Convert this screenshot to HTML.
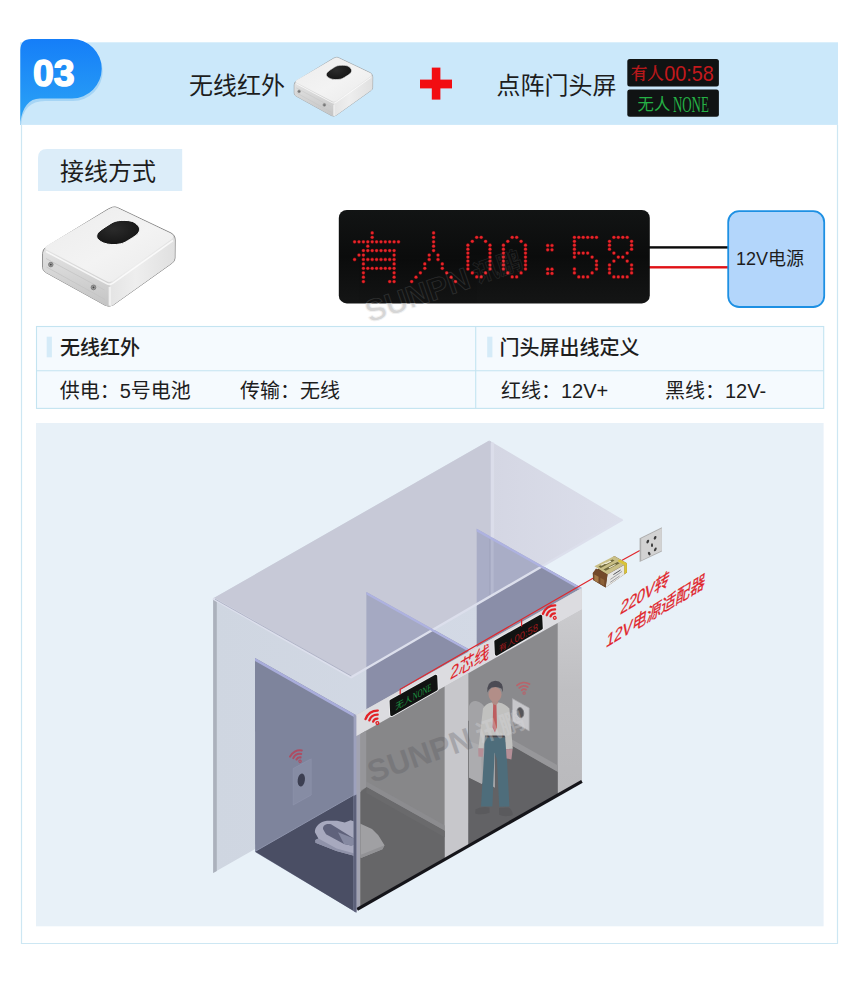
<!DOCTYPE html>
<html lang="zh"><head><meta charset="utf-8"><title>03 无线红外 + 点阵门头屏 接线方式</title>
<style>
html,body{margin:0;padding:0;background:#fff}
body{width:860px;height:1001px;position:relative;overflow:hidden;font-family:"Liberation Sans","Noto Sans CJK SC",sans-serif}
#art{position:absolute;left:0;top:0;width:860px;height:1001px;display:block}
#art text{font-family:"Liberation Sans","Noto Sans CJK SC",sans-serif}
#art text.sf{font-family:"Liberation Serif","Noto Serif CJK SC",serif}
.t{position:absolute;margin:0;color:transparent;white-space:nowrap;line-height:1;font-size:20px;z-index:0;user-select:none}
.num{position:absolute;left:33px;top:55px;font:bold 37px/1 "Liberation Sans",sans-serif;color:transparent;z-index:0}
</style></head><body>
<h1 class="t" style="left:189px;top:72px;font-size:24px">无线红外 + 点阵门头屏</h1>
<h2 class="t" style="left:60px;top:158px;font-size:24px">接线方式</h2>
<p class="t" style="left:60px;top:336px">无线红外</p><p class="t" style="left:60px;top:380px">供电：5号电池　传输：无线</p>
<p class="t" style="left:500px;top:336px">门头屏出线定义</p><p class="t" style="left:501px;top:380px">红线：12V+　黑线：12V-</p>
<p class="t" style="left:735px;top:248px;font-size:18px">12V电源</p>
<p class="t" style="left:420px;top:650px;font-size:14px">有人00:58 无人NONE 2芯线 220V转 12V电源适配器</p>
<svg id="art" width="860" height="1001" viewBox="0 0 860 1001">
<rect x="20" y="42.3" width="818" height="82.6" fill="#cbe8fa"/>
<path d="M20 52 Q20 41.5 31 41.5 L73 41.5 A29.7 29.7 0 0 1 73 100.9 L45 100.9 Q23 100.9 21 124.9 L20 124.9 Z" fill="#a6d5f5"/>
<defs><linearGradient id="bg1" x1="0" y1="0" x2="0" y2="1"><stop offset="0" stop-color="#157ef8"/><stop offset="1" stop-color="#2ca4f5"/></linearGradient></defs>
<path d="M20.4 50 Q20.4 39 31.4 39 L72 39 A29.7 29.7 0 0 1 72 98.4 L40 98.4 C29 98.4 22.5 107 20.4 122 Z" fill="url(#bg1)"/>
<text x="33" y="85.9" font-size="37.5" font-weight="bold" fill="#fff" stroke="#fff" stroke-width="1.5" stroke-linejoin="round">03</text>
<text x="189" y="93.8" font-size="24" fill="#1d1d1d">无线红外</text>
<text x="496.5" y="93.8" font-size="24" fill="#1d1d1d">点阵门头屏</text>
<rect x="420" y="79.6" width="32" height="8.8" fill="#f20d12"/><rect x="431.8" y="67.6" width="8.6" height="32" fill="#f20d12"/>
<rect x="627.3" y="59.1" width="91.6" height="27.5" rx="2.5" fill="#101313"/>
<rect x="627.3" y="89.5" width="91.6" height="27.3" rx="2.5" fill="#101313"/>
<text class="sf" x="631" y="79.4" font-size="16.3" fill="#c3191c" stroke="#c3191c" stroke-width=".35">有人</text>
<text x="664.2" y="81" font-size="21.6" fill="#c3191c" textLength="49.6" lengthAdjust="spacingAndGlyphs">00:58</text>
<text x="637.5" y="110.4" font-size="16.4" fill="#25b045">无人</text>
<text class="sf" x="672.9" y="111.6" font-size="23.5" fill="#25b045" textLength="36" lengthAdjust="spacingAndGlyphs">NONE</text>
<path d="M21.5 124.9 V943.5 H837.5 V124.9" fill="none" stroke="#cde7f3" stroke-width="1.2"/>
<path d="M38 190.9 V158 Q38 149.1 47 149.1 H182.2 V190.9 Z" fill="#dcedf9"/>
<text x="60" y="179.8" font-size="24" fill="#1d1d1d">接线方式</text>
<rect x="36.5" y="326.5" width="787.2" height="81.9" fill="#f5fafe" stroke="#c4e4f1" stroke-width="1.1"/>
<path d="M36.5 370.8 H823.7 M475.7 326.5 V408.4" stroke="#c4e4f1" stroke-width="1.1" fill="none"/>
<rect x="46.7" y="336.7" width="5.2" height="20.6" fill="#d5ebf8"/><rect x="487.2" y="336.7" width="5.2" height="20.6" fill="#d5ebf8"/>
<text x="60" y="354.5" font-size="20" font-weight="500" fill="#1d1d1d">无线红外</text>
<text x="499.5" y="354.5" font-size="20" font-weight="500" fill="#1d1d1d">门头屏出线定义</text>
<text x="59.7" y="398" font-size="20" fill="#1d1d1d">供电：5号电池</text>
<text x="240" y="398" font-size="20" fill="#1d1d1d">传输：无线</text>
<text x="501" y="398" font-size="20" fill="#1d1d1d">红线：12V+</text>
<text x="665" y="398" font-size="20" fill="#1d1d1d">黑线：12V-</text>
<rect x="649" y="246.2" width="80" height="2.4" fill="#0a0a0a"/><rect x="649" y="266.1" width="80" height="2.4" fill="#e01217"/>
<rect x="728.2" y="211.2" width="96" height="95.8" rx="11" fill="#b3d6fb" stroke="#1d90e3" stroke-width="1.8"/>
<text x="736" y="265.2" font-size="18" fill="#1d1d1d">12V电源</text>
<defs><linearGradient id="pn" x1="0" y1="0" x2="0" y2="1"><stop offset="0" stop-color="#121414"/><stop offset=".5" stop-color="#0b0c0c"/><stop offset="1" stop-color="#141515"/></linearGradient></defs>
<rect x="338.8" y="210" width="311" height="93.4" rx="8" fill="url(#pn)"/>
<g fill="#7a0d10"><circle cx="372.2" cy="232.9" r="1.9"/><circle cx="372.2" cy="237.3" r="1.9"/><circle cx="354.6" cy="241.8" r="1.9"/><circle cx="359" cy="241.8" r="1.9"/><circle cx="363.4" cy="241.8" r="1.9"/><circle cx="367.8" cy="241.8" r="1.9"/><circle cx="372.2" cy="241.8" r="1.9"/><circle cx="376.6" cy="241.8" r="1.9"/><circle cx="381" cy="241.8" r="1.9"/><circle cx="385.3" cy="241.8" r="1.9"/><circle cx="389.7" cy="241.8" r="1.9"/><circle cx="394.1" cy="241.8" r="1.9"/><circle cx="398.5" cy="241.8" r="1.9"/><circle cx="367.8" cy="246.2" r="1.9"/><circle cx="363.4" cy="250.6" r="1.9"/><circle cx="367.8" cy="250.6" r="1.9"/><circle cx="372.2" cy="250.6" r="1.9"/><circle cx="376.6" cy="250.6" r="1.9"/><circle cx="381" cy="250.6" r="1.9"/><circle cx="385.3" cy="250.6" r="1.9"/><circle cx="389.7" cy="250.6" r="1.9"/><circle cx="394.1" cy="250.6" r="1.9"/><circle cx="359" cy="255.1" r="1.9"/><circle cx="363.4" cy="255.1" r="1.9"/><circle cx="394.1" cy="255.1" r="1.9"/><circle cx="354.6" cy="259.5" r="1.9"/><circle cx="363.4" cy="259.5" r="1.9"/><circle cx="367.8" cy="259.5" r="1.9"/><circle cx="372.2" cy="259.5" r="1.9"/><circle cx="376.6" cy="259.5" r="1.9"/><circle cx="381" cy="259.5" r="1.9"/><circle cx="385.3" cy="259.5" r="1.9"/><circle cx="389.7" cy="259.5" r="1.9"/><circle cx="394.1" cy="259.5" r="1.9"/><circle cx="363.4" cy="263.9" r="1.9"/><circle cx="394.1" cy="263.9" r="1.9"/><circle cx="363.4" cy="268.3" r="1.9"/><circle cx="367.8" cy="268.3" r="1.9"/><circle cx="372.2" cy="268.3" r="1.9"/><circle cx="376.6" cy="268.3" r="1.9"/><circle cx="381" cy="268.3" r="1.9"/><circle cx="385.3" cy="268.3" r="1.9"/><circle cx="389.7" cy="268.3" r="1.9"/><circle cx="394.1" cy="268.3" r="1.9"/><circle cx="363.4" cy="272.8" r="1.9"/><circle cx="394.1" cy="272.8" r="1.9"/><circle cx="363.4" cy="277.2" r="1.9"/><circle cx="394.1" cy="277.2" r="1.9"/><circle cx="363.4" cy="281.6" r="1.9"/><circle cx="389.7" cy="281.6" r="1.9"/><circle cx="394.1" cy="281.6" r="1.9"/><circle cx="433.6" cy="232.9" r="1.9"/><circle cx="433.6" cy="237.3" r="1.9"/><circle cx="433.6" cy="241.8" r="1.9"/><circle cx="433.6" cy="246.2" r="1.9"/><circle cx="433.6" cy="250.6" r="1.9"/><circle cx="429.2" cy="255.1" r="1.9"/><circle cx="438" cy="255.1" r="1.9"/><circle cx="429.2" cy="259.5" r="1.9"/><circle cx="438" cy="259.5" r="1.9"/><circle cx="424.8" cy="263.9" r="1.9"/><circle cx="442.3" cy="263.9" r="1.9"/><circle cx="424.8" cy="268.3" r="1.9"/><circle cx="442.3" cy="268.3" r="1.9"/><circle cx="420.4" cy="272.8" r="1.9"/><circle cx="446.7" cy="272.8" r="1.9"/><circle cx="416" cy="277.2" r="1.9"/><circle cx="451.1" cy="277.2" r="1.9"/><circle cx="411.7" cy="281.6" r="1.9"/><circle cx="455.5" cy="281.6" r="1.9"/><circle cx="476.7" cy="237.3" r="1.9"/><circle cx="481.2" cy="237.3" r="1.9"/><circle cx="472.3" cy="241.3" r="1.9"/><circle cx="485.6" cy="241.3" r="1.9"/><circle cx="467.9" cy="245.2" r="1.9"/><circle cx="490" cy="245.2" r="1.9"/><circle cx="467.9" cy="249.2" r="1.9"/><circle cx="490" cy="249.2" r="1.9"/><circle cx="467.9" cy="253.1" r="1.9"/><circle cx="490" cy="253.1" r="1.9"/><circle cx="467.9" cy="257.1" r="1.9"/><circle cx="490" cy="257.1" r="1.9"/><circle cx="467.9" cy="261.1" r="1.9"/><circle cx="490" cy="261.1" r="1.9"/><circle cx="467.9" cy="265" r="1.9"/><circle cx="490" cy="265" r="1.9"/><circle cx="467.9" cy="269" r="1.9"/><circle cx="490" cy="269" r="1.9"/><circle cx="472.3" cy="272.9" r="1.9"/><circle cx="485.6" cy="272.9" r="1.9"/><circle cx="476.7" cy="276.9" r="1.9"/><circle cx="481.2" cy="276.9" r="1.9"/><circle cx="512.2" cy="237.3" r="1.9"/><circle cx="516.7" cy="237.3" r="1.9"/><circle cx="507.8" cy="241.3" r="1.9"/><circle cx="521.1" cy="241.3" r="1.9"/><circle cx="503.4" cy="245.2" r="1.9"/><circle cx="525.5" cy="245.2" r="1.9"/><circle cx="503.4" cy="249.2" r="1.9"/><circle cx="525.5" cy="249.2" r="1.9"/><circle cx="503.4" cy="253.1" r="1.9"/><circle cx="525.5" cy="253.1" r="1.9"/><circle cx="503.4" cy="257.1" r="1.9"/><circle cx="525.5" cy="257.1" r="1.9"/><circle cx="503.4" cy="261.1" r="1.9"/><circle cx="525.5" cy="261.1" r="1.9"/><circle cx="503.4" cy="265" r="1.9"/><circle cx="525.5" cy="265" r="1.9"/><circle cx="503.4" cy="269" r="1.9"/><circle cx="525.5" cy="269" r="1.9"/><circle cx="507.8" cy="272.9" r="1.9"/><circle cx="521.1" cy="272.9" r="1.9"/><circle cx="512.2" cy="276.9" r="1.9"/><circle cx="516.7" cy="276.9" r="1.9"/><circle cx="574.4" cy="237.3" r="1.9"/><circle cx="578.8" cy="237.3" r="1.9"/><circle cx="583.2" cy="237.3" r="1.9"/><circle cx="587.7" cy="237.3" r="1.9"/><circle cx="592.1" cy="237.3" r="1.9"/><circle cx="596.5" cy="237.3" r="1.9"/><circle cx="574.4" cy="241.3" r="1.9"/><circle cx="574.4" cy="245.2" r="1.9"/><circle cx="574.4" cy="249.2" r="1.9"/><circle cx="574.4" cy="253.1" r="1.9"/><circle cx="578.8" cy="253.1" r="1.9"/><circle cx="583.2" cy="253.1" r="1.9"/><circle cx="587.7" cy="253.1" r="1.9"/><circle cx="574.4" cy="257.1" r="1.9"/><circle cx="592.1" cy="257.1" r="1.9"/><circle cx="596.5" cy="261.1" r="1.9"/><circle cx="596.5" cy="265" r="1.9"/><circle cx="574.4" cy="269" r="1.9"/><circle cx="596.5" cy="269" r="1.9"/><circle cx="574.4" cy="272.9" r="1.9"/><circle cx="592.1" cy="272.9" r="1.9"/><circle cx="578.8" cy="276.9" r="1.9"/><circle cx="583.2" cy="276.9" r="1.9"/><circle cx="587.7" cy="276.9" r="1.9"/><circle cx="613.9" cy="237.3" r="1.9"/><circle cx="618.3" cy="237.3" r="1.9"/><circle cx="622.8" cy="237.3" r="1.9"/><circle cx="627.2" cy="237.3" r="1.9"/><circle cx="609.5" cy="241.3" r="1.9"/><circle cx="631.6" cy="241.3" r="1.9"/><circle cx="609.5" cy="245.2" r="1.9"/><circle cx="631.6" cy="245.2" r="1.9"/><circle cx="609.5" cy="249.2" r="1.9"/><circle cx="631.6" cy="249.2" r="1.9"/><circle cx="613.9" cy="253.1" r="1.9"/><circle cx="627.2" cy="253.1" r="1.9"/><circle cx="618.3" cy="257.1" r="1.9"/><circle cx="622.8" cy="257.1" r="1.9"/><circle cx="613.9" cy="261.1" r="1.9"/><circle cx="627.2" cy="261.1" r="1.9"/><circle cx="609.5" cy="265" r="1.9"/><circle cx="631.6" cy="265" r="1.9"/><circle cx="609.5" cy="269" r="1.9"/><circle cx="631.6" cy="269" r="1.9"/><circle cx="609.5" cy="272.9" r="1.9"/><circle cx="631.6" cy="272.9" r="1.9"/><circle cx="613.9" cy="276.9" r="1.9"/><circle cx="618.3" cy="276.9" r="1.9"/><circle cx="622.8" cy="276.9" r="1.9"/><circle cx="627.2" cy="276.9" r="1.9"/><circle cx="547.7" cy="245.5" r="1.9"/><circle cx="547.7" cy="249.8" r="1.9"/><circle cx="547.7" cy="269.2" r="1.9"/><circle cx="547.7" cy="273.4" r="1.9"/><circle cx="552" cy="245.5" r="1.9"/><circle cx="552" cy="249.8" r="1.9"/><circle cx="552" cy="269.2" r="1.9"/><circle cx="552" cy="273.4" r="1.9"/></g>
<g fill="#e8262b"><circle cx="372.2" cy="232.9" r="1.35"/><circle cx="372.2" cy="237.3" r="1.35"/><circle cx="354.6" cy="241.8" r="1.35"/><circle cx="359" cy="241.8" r="1.35"/><circle cx="363.4" cy="241.8" r="1.35"/><circle cx="367.8" cy="241.8" r="1.35"/><circle cx="372.2" cy="241.8" r="1.35"/><circle cx="376.6" cy="241.8" r="1.35"/><circle cx="381" cy="241.8" r="1.35"/><circle cx="385.3" cy="241.8" r="1.35"/><circle cx="389.7" cy="241.8" r="1.35"/><circle cx="394.1" cy="241.8" r="1.35"/><circle cx="398.5" cy="241.8" r="1.35"/><circle cx="367.8" cy="246.2" r="1.35"/><circle cx="363.4" cy="250.6" r="1.35"/><circle cx="367.8" cy="250.6" r="1.35"/><circle cx="372.2" cy="250.6" r="1.35"/><circle cx="376.6" cy="250.6" r="1.35"/><circle cx="381" cy="250.6" r="1.35"/><circle cx="385.3" cy="250.6" r="1.35"/><circle cx="389.7" cy="250.6" r="1.35"/><circle cx="394.1" cy="250.6" r="1.35"/><circle cx="359" cy="255.1" r="1.35"/><circle cx="363.4" cy="255.1" r="1.35"/><circle cx="394.1" cy="255.1" r="1.35"/><circle cx="354.6" cy="259.5" r="1.35"/><circle cx="363.4" cy="259.5" r="1.35"/><circle cx="367.8" cy="259.5" r="1.35"/><circle cx="372.2" cy="259.5" r="1.35"/><circle cx="376.6" cy="259.5" r="1.35"/><circle cx="381" cy="259.5" r="1.35"/><circle cx="385.3" cy="259.5" r="1.35"/><circle cx="389.7" cy="259.5" r="1.35"/><circle cx="394.1" cy="259.5" r="1.35"/><circle cx="363.4" cy="263.9" r="1.35"/><circle cx="394.1" cy="263.9" r="1.35"/><circle cx="363.4" cy="268.3" r="1.35"/><circle cx="367.8" cy="268.3" r="1.35"/><circle cx="372.2" cy="268.3" r="1.35"/><circle cx="376.6" cy="268.3" r="1.35"/><circle cx="381" cy="268.3" r="1.35"/><circle cx="385.3" cy="268.3" r="1.35"/><circle cx="389.7" cy="268.3" r="1.35"/><circle cx="394.1" cy="268.3" r="1.35"/><circle cx="363.4" cy="272.8" r="1.35"/><circle cx="394.1" cy="272.8" r="1.35"/><circle cx="363.4" cy="277.2" r="1.35"/><circle cx="394.1" cy="277.2" r="1.35"/><circle cx="363.4" cy="281.6" r="1.35"/><circle cx="389.7" cy="281.6" r="1.35"/><circle cx="394.1" cy="281.6" r="1.35"/><circle cx="433.6" cy="232.9" r="1.35"/><circle cx="433.6" cy="237.3" r="1.35"/><circle cx="433.6" cy="241.8" r="1.35"/><circle cx="433.6" cy="246.2" r="1.35"/><circle cx="433.6" cy="250.6" r="1.35"/><circle cx="429.2" cy="255.1" r="1.35"/><circle cx="438" cy="255.1" r="1.35"/><circle cx="429.2" cy="259.5" r="1.35"/><circle cx="438" cy="259.5" r="1.35"/><circle cx="424.8" cy="263.9" r="1.35"/><circle cx="442.3" cy="263.9" r="1.35"/><circle cx="424.8" cy="268.3" r="1.35"/><circle cx="442.3" cy="268.3" r="1.35"/><circle cx="420.4" cy="272.8" r="1.35"/><circle cx="446.7" cy="272.8" r="1.35"/><circle cx="416" cy="277.2" r="1.35"/><circle cx="451.1" cy="277.2" r="1.35"/><circle cx="411.7" cy="281.6" r="1.35"/><circle cx="455.5" cy="281.6" r="1.35"/><circle cx="476.7" cy="237.3" r="1.35"/><circle cx="481.2" cy="237.3" r="1.35"/><circle cx="472.3" cy="241.3" r="1.35"/><circle cx="485.6" cy="241.3" r="1.35"/><circle cx="467.9" cy="245.2" r="1.35"/><circle cx="490" cy="245.2" r="1.35"/><circle cx="467.9" cy="249.2" r="1.35"/><circle cx="490" cy="249.2" r="1.35"/><circle cx="467.9" cy="253.1" r="1.35"/><circle cx="490" cy="253.1" r="1.35"/><circle cx="467.9" cy="257.1" r="1.35"/><circle cx="490" cy="257.1" r="1.35"/><circle cx="467.9" cy="261.1" r="1.35"/><circle cx="490" cy="261.1" r="1.35"/><circle cx="467.9" cy="265" r="1.35"/><circle cx="490" cy="265" r="1.35"/><circle cx="467.9" cy="269" r="1.35"/><circle cx="490" cy="269" r="1.35"/><circle cx="472.3" cy="272.9" r="1.35"/><circle cx="485.6" cy="272.9" r="1.35"/><circle cx="476.7" cy="276.9" r="1.35"/><circle cx="481.2" cy="276.9" r="1.35"/><circle cx="512.2" cy="237.3" r="1.35"/><circle cx="516.7" cy="237.3" r="1.35"/><circle cx="507.8" cy="241.3" r="1.35"/><circle cx="521.1" cy="241.3" r="1.35"/><circle cx="503.4" cy="245.2" r="1.35"/><circle cx="525.5" cy="245.2" r="1.35"/><circle cx="503.4" cy="249.2" r="1.35"/><circle cx="525.5" cy="249.2" r="1.35"/><circle cx="503.4" cy="253.1" r="1.35"/><circle cx="525.5" cy="253.1" r="1.35"/><circle cx="503.4" cy="257.1" r="1.35"/><circle cx="525.5" cy="257.1" r="1.35"/><circle cx="503.4" cy="261.1" r="1.35"/><circle cx="525.5" cy="261.1" r="1.35"/><circle cx="503.4" cy="265" r="1.35"/><circle cx="525.5" cy="265" r="1.35"/><circle cx="503.4" cy="269" r="1.35"/><circle cx="525.5" cy="269" r="1.35"/><circle cx="507.8" cy="272.9" r="1.35"/><circle cx="521.1" cy="272.9" r="1.35"/><circle cx="512.2" cy="276.9" r="1.35"/><circle cx="516.7" cy="276.9" r="1.35"/><circle cx="574.4" cy="237.3" r="1.35"/><circle cx="578.8" cy="237.3" r="1.35"/><circle cx="583.2" cy="237.3" r="1.35"/><circle cx="587.7" cy="237.3" r="1.35"/><circle cx="592.1" cy="237.3" r="1.35"/><circle cx="596.5" cy="237.3" r="1.35"/><circle cx="574.4" cy="241.3" r="1.35"/><circle cx="574.4" cy="245.2" r="1.35"/><circle cx="574.4" cy="249.2" r="1.35"/><circle cx="574.4" cy="253.1" r="1.35"/><circle cx="578.8" cy="253.1" r="1.35"/><circle cx="583.2" cy="253.1" r="1.35"/><circle cx="587.7" cy="253.1" r="1.35"/><circle cx="574.4" cy="257.1" r="1.35"/><circle cx="592.1" cy="257.1" r="1.35"/><circle cx="596.5" cy="261.1" r="1.35"/><circle cx="596.5" cy="265" r="1.35"/><circle cx="574.4" cy="269" r="1.35"/><circle cx="596.5" cy="269" r="1.35"/><circle cx="574.4" cy="272.9" r="1.35"/><circle cx="592.1" cy="272.9" r="1.35"/><circle cx="578.8" cy="276.9" r="1.35"/><circle cx="583.2" cy="276.9" r="1.35"/><circle cx="587.7" cy="276.9" r="1.35"/><circle cx="613.9" cy="237.3" r="1.35"/><circle cx="618.3" cy="237.3" r="1.35"/><circle cx="622.8" cy="237.3" r="1.35"/><circle cx="627.2" cy="237.3" r="1.35"/><circle cx="609.5" cy="241.3" r="1.35"/><circle cx="631.6" cy="241.3" r="1.35"/><circle cx="609.5" cy="245.2" r="1.35"/><circle cx="631.6" cy="245.2" r="1.35"/><circle cx="609.5" cy="249.2" r="1.35"/><circle cx="631.6" cy="249.2" r="1.35"/><circle cx="613.9" cy="253.1" r="1.35"/><circle cx="627.2" cy="253.1" r="1.35"/><circle cx="618.3" cy="257.1" r="1.35"/><circle cx="622.8" cy="257.1" r="1.35"/><circle cx="613.9" cy="261.1" r="1.35"/><circle cx="627.2" cy="261.1" r="1.35"/><circle cx="609.5" cy="265" r="1.35"/><circle cx="631.6" cy="265" r="1.35"/><circle cx="609.5" cy="269" r="1.35"/><circle cx="631.6" cy="269" r="1.35"/><circle cx="609.5" cy="272.9" r="1.35"/><circle cx="631.6" cy="272.9" r="1.35"/><circle cx="613.9" cy="276.9" r="1.35"/><circle cx="618.3" cy="276.9" r="1.35"/><circle cx="622.8" cy="276.9" r="1.35"/><circle cx="627.2" cy="276.9" r="1.35"/><circle cx="547.7" cy="245.5" r="1.35"/><circle cx="547.7" cy="249.8" r="1.35"/><circle cx="547.7" cy="269.2" r="1.35"/><circle cx="547.7" cy="273.4" r="1.35"/><circle cx="552" cy="245.5" r="1.35"/><circle cx="552" cy="249.8" r="1.35"/><circle cx="552" cy="269.2" r="1.35"/><circle cx="552" cy="273.4" r="1.35"/></g>
<defs>
<linearGradient id="dvTop" x1="0" y1="0" x2="1" y2="1"><stop offset="0" stop-color="#ececec"/><stop offset=".55" stop-color="#f3f3f3"/><stop offset="1" stop-color="#eaeaea"/></linearGradient>
<linearGradient id="dvL" x1="0" y1="0" x2="0" y2="1"><stop offset="0" stop-color="#e3e3e3"/><stop offset=".35" stop-color="#d8d8d8"/><stop offset="1" stop-color="#c4c4c4"/></linearGradient>
<linearGradient id="dvR" x1="0" y1="0" x2="1" y2="0"><stop offset="0" stop-color="#e4e4e4"/><stop offset=".4" stop-color="#eeeeee"/><stop offset="1" stop-color="#e0e0e0"/></linearGradient>
<radialGradient id="dvP" cx=".4" cy=".35" r=".8"><stop offset="0" stop-color="#2b2b2b"/><stop offset="1" stop-color="#111"/></radialGradient>
<g id="dev">
 <path d="M112.6 207.2 Q115 206.4 117.5 207.6 L171 233 Q175.2 235.2 175.2 240 L175 258 Q175 261 172.3 263 L113.5 304.8 Q109.3 307.6 105 305.2 L45.5 272.3 Q42.6 270.6 42.6 267.4 L42.6 253.5 Q42.6 249.3 46.2 247 L108.6 208.8 Z" fill="#d8d8d8" stroke="#8a8a8a" stroke-width="1" stroke-linejoin="round"/>
 <path d="M43.2 253 Q43.4 250.2 46.4 249 L106 280.5 Q109.5 282.5 109.8 286 L109.6 306.6 Q107 306.6 105 305.2 L45.5 272.3 Q43 270.8 43 267.4 Z" fill="url(#dvL)"/>
 <path d="M109.8 286 Q110 282.5 113 280.5 L171.5 238.5 Q174.6 236.6 174.8 240 L174.6 258 Q174.6 261 172 263 L113.5 304.8 Q111.5 306.4 109.6 306.6 Z" fill="url(#dvR)"/>
 <path d="M112.6 207.6 Q115 206.8 117.5 208 L170.8 233.4 Q175.5 236 171.5 239.2 L113.6 280.6 Q109.9 283.2 106 280.9 L46.2 249.4 Q43.5 247.6 47 245.4 L108.6 209.2 Z" fill="url(#dvTop)"/>
 <path d="M46 251.5 L106.5 283.5 Q109.8 285.3 113 283.2 L173 240.5" fill="none" stroke="#fff" stroke-width="1.6" opacity=".75"/>
 <path d="M46 258.5 L104.5 290 M46.5 267 L105 299.5" fill="none" stroke="#c4c4c4" stroke-width=".8"/>
 <path d="M109.7 287 V305.5" stroke="#f6f6f6" stroke-width="2.2" opacity=".8"/>
 <path d="M115.1 221.4C117.9 220.5 121.2 220.4 124.1 220.4C126.9 220.4 129.9 220.6 132.2 221.4C134.5 222.2 136.7 224.2 137.9 225.5C139.1 226.8 139.6 228 139.5 229.5C139.4 231 139.1 232.5 137.1 234.4C135.1 236.3 130 239.3 127.3 240.9C124.6 242.5 123.4 243.2 120.8 243.8C118.2 244.4 114.8 244.7 111.9 244.6C109.1 244.5 106 243.9 103.7 243C101.4 242.1 99.2 240.6 98 239.3C96.8 238 96.5 236.5 96.8 235.2C97.1 233.8 97.9 232.8 99.6 231.2C101.3 229.6 104.4 227.5 107 225.9C109.6 224.3 112.2 222.3 115.1 221.4Z" fill="url(#dvP)" stroke="#fbfbfb" stroke-width="1"/>
 <circle cx="50.8" cy="264.6" r="2.3" fill="#9a9a9a" stroke="#6d6d6d" stroke-width=".7"/><circle cx="50.8" cy="264.6" r=".9" fill="#444"/>
 <circle cx="93.5" cy="287.4" r="2.4" fill="#9a9a9a" stroke="#6d6d6d" stroke-width=".7"/><circle cx="93.5" cy="287.4" r=".9" fill="#444"/>
</g></defs>
<use href="#dev"/>
<use href="#dev" transform="translate(269.0 -65.2) scale(0.592)"/>
<rect x="36" y="423" width="787.6" height="503.3" fill="#e8f1f8"/>
<defs><linearGradient id="wallg" x1="0" y1="0" x2="1" y2="0"><stop offset="0" stop-color="#cfd6e1"/><stop offset="1" stop-color="#d3d9e5"/></linearGradient></defs>
<polygon points="213,598.5 489.3,440.5 489.3,715 213,873" fill="url(#wallg)" />
<polygon points="213.2,598.6 216.8,600.7 216.8,870.9 213.2,873" fill="#abb1bc" />
<polygon points="366.4,592 468.4,648.9 468.4,654.9 366.4,712.2" fill="#8a8ea8" />
<polygon points="476.7,528.8 581.9,588.1 476.7,650.2" fill="#8a8ea8" />
<defs><clipPath id="roofclip"><polygon points="213,598.5 489.3,440.5 622.6,519.5 351.2,677.2"/></clipPath></defs>
<polygon points="213,598.5 489.3,440.5 489.3,597 351.2,677.2" fill="#c7c9d7" />
<defs><linearGradient id="roofg" gradientUnits="userSpaceOnUse" x1="489" y1="0" x2="622" y2="0"><stop offset="0" stop-color="#d4d6e3"/><stop offset="1" stop-color="#dcdfeb"/></linearGradient></defs>
<polygon points="489.3,440.5 622.6,519.5 489.3,597" fill="url(#roofg)" />
<g clip-path="url(#roofclip)"><polygon points="366.4,592 468.4,648.9 468.4,654.9 366.4,712.2" fill="#a5a9c2"/><polygon points="476.7,528.8 581.9,588.1 476.7,650.2" fill="#a9adc6"/></g>
<path d="M490 441.2 V536.2" stroke="#bdbfce" stroke-width="1.2"/><path d="M492.4 442.6 V537.6" stroke="#dbddea" stroke-width="3.4"/>
<path d="M490 538 V597" stroke="#9da1ba" stroke-width="1"/><path d="M492.2 539 V595.5" stroke="#b4b8cf" stroke-width="3"/>
<path d="M213,598.5 L351.2,677.2 L622.6,519.5" fill="none" stroke="#dcdfec" stroke-width="2.4"/>
<path d="M215,599.1 L351.2,676" fill="none" stroke="#9fa3b8" stroke-width=".7"/>
<path d="M366.4,592 L468.4,648.9 L468.4,651.5 L366.4,594.6 Z" fill="#aeb2e0"/>
<path d="M476.7,528.8 L581.9,588.1 L581.9,590.7 L476.7,531.4 Z" fill="#aeb2e0"/>
<polygon points="255,658 356.2,715.3 356.2,912.4 255.1,852" fill="#7e849c" />
<polygon points="255.1,851.4 356.2,793.6 356.2,912.4" fill="#4a4e64" />
<path d="M255.1 851.4 L356.2 793.6" stroke="#8d93ab" stroke-width="1"/>
<path d="M255,658 L356.2,715.3 L356.2,718.3 L255,661 Z" fill="#a9addb"/>
<polygon points="293.2,768.5 311.2,758.8 311.2,795 293.2,805" fill="#868ca4" />
<path d="M293.2 768.5 L311.2 758.8 V795 L293.2 805 Z" fill="none" stroke="#9096ae" stroke-width=".6"/>
<ellipse cx="301.3" cy="780" rx="3.6" ry="6.6" fill="#3c3f52" transform="rotate(8 301.3 780)"/>
<path d="M314.9 832.2 C314.6 827 320 821.4 327 820.7 L337 820.7 L344.8 822.6 L350.6 820.2 L359.4 823.3 L372 829.1 L378.3 835.3 L384.5 845.3 L382.4 849.2 L361.5 857.8 L336.4 851 L315.5 842.7 L315.4 840 L318.4 838.4 Z" fill="#a7a9be"/>
<path d="M315.5 842.7 L336.4 851 L361.5 857.8 L361.5 855.4 L336.6 848.6 L318.4 838.4 L315.4 840 Z" fill="#8f92a9"/>
<path d="M323 829 C322.4 825 327 823.2 331 824.2 L354 838.5 C356.6 841 355 845.4 351 845.6 L344 844 L326 834.2 Z" fill="#5f627b"/>
<path d="M338 832.2 L354 838.5 C356.6 841 355 845.4 351 845.6 L344 844 Z" fill="#8589a1"/>
<defs><linearGradient id="pil" x1="0" y1="0" x2="0" y2="1"><stop offset="0" stop-color="#d6d6da"/><stop offset="1" stop-color="#bcbcc0"/></linearGradient></defs>
<defs><linearGradient id="pilr" gradientUnits="userSpaceOnUse" x1="0" y1="610" x2="0" y2="790"><stop offset="0" stop-color="#cbcbce"/><stop offset=".45" stop-color="#bfbfc2"/><stop offset="1" stop-color="#bababd"/></linearGradient></defs>
<polygon points="355.6,715.3 581.9,588.1 581.9,782.1 355.6,911" fill="#c3c3c7" />
<polygon points="355.6,715.3 581.9,588.1 581.9,609.4 355.6,736.6" fill="#dcdce0" />
<polygon points="444.6,686.6 468.4,673.2 468.4,846.7 444.6,860.3" fill="#c7c7cb" />
<polygon points="557.7,623 581.9,609.4 581.9,782.1 557.7,795.9" fill="url(#pilr)" />
<polygon points="355.6,736.6 360.4,733.9 360.4,908.3 355.6,911" fill="#a2a3b1" />
<defs><clipPath id="d1c"><polygon points="360.4,733.9 444.6,686.6 444.6,860.3 360.4,908.3"/></clipPath></defs>
<polygon points="360.4,733.9 444.6,686.6 444.6,860.3 360.4,908.3" fill="#878789" />
<g clip-path="url(#d1c)"><polygon points="355,796.5 366.4,787 446,831.6 446,920 355,920" fill="#666668"/><polygon points="366.4,781.5 446,826 446,831.6 366.4,787" fill="#8c8c8f"/><polygon points="366.4,787 446,831.6 446,838 366.4,793" fill="#6a6a6c"/><path d="M314.9 832.2 C314.6 827 320 821.4 327 820.7 L337 820.7 L344.8 822.6 L350.6 820.2 L359.4 823.3 L372 829.1 L378.3 835.3 L384.5 845.3 L382.4 849.2 L361.5 857.8 L336.4 851 L315.5 842.7 L315.4 840 L318.4 838.4 Z" fill="#a0a0a3"/><path d="M336.4 851 L361.5 857.8 L382.4 849.2 L384.5 845.3 L361.6 854.6 L336.6 848.6 Z" fill="#929295"/><path d="M323 829 C322.4 825 327 823.2 331 824.2 L354 838.5 C356.6 841 355 845.4 351 845.6 L344 844 L326 834.2 Z" fill="#7d7d80"/><path d="M338 832.2 L354 838.5 C356.6 841 355 845.4 351 845.6 L344 844 Z" fill="#8f8f92"/><polygon points="360.4,730 366.2,727 366.2,787.2 360.4,790.5" fill="#96969a"/></g>
<defs><clipPath id="d2c"><polygon points="468.4,673.2 557.7,623 557.7,795.9 468.4,846.7"/></clipPath></defs>
<polygon points="468.4,673.2 557.7,623 557.7,795.9 468.4,846.7" fill="#8a8a8d" />
<g clip-path="url(#d2c)"><polygon points="460,716 560,773 560,830 460,880" fill="#626265"/><polygon points="500,732.6 560,766.6 560,773.2 500,739" fill="#97979a"/><path d="M469 706 Q471 700.6 476 701 Q483 702.4 485.4 709 L485.8 778 L482 784 L469 777.6 Z" fill="#a3a3a6"/><path d="M469 741 L481 745.5 L482 784 L469 777.6 Z" fill="#acacaf"/><path d="M492.2 752 L494.8 752 L494.8 787.8 L492.2 786 Z" fill="#b4b4b7"/></g>
<polygon points="512.4,698.6 529.2,708 529.2,731 512.4,721.3" fill="#c7c7cb" />
<path d="M512.4 698.6 L529.2 708 V731 L512.4 721.3 Z" fill="none" stroke="#a9a9ad" stroke-width=".7"/>
<ellipse cx="520.4" cy="712.6" rx="3.3" ry="5.2" fill="#55555a" stroke="#77777c" stroke-width=".8" transform="rotate(-10 520.4 712.6)"/>
<g>
<path d="M484.6 737 L505.2 737 L506.6 752 L509.4 806.6 L499.2 806.8 L497.0 760 L494.6 752.5 L492.4 806.6 L481 806.4 L484.2 752 Z" fill="#4e6d7b"/>
<path d="M475.4 809.5 Q480 806 489.4 807.4 L489.6 812.8 Q481 815.6 475.2 813.4 Z M499 808 L508.6 807.6 Q512.4 810 512.8 815 Q505 817.6 499.2 814.8 Z" fill="#5a5a5d"/>
<path d="M491.4 702.4 L498.6 702.4 Q505.6 703.6 509.4 708.6 L512.8 748.8 L506 749.2 L504.4 722 L505.2 737.2 L484.6 737.2 L486.2 721 L483.6 748.6 L478.4 748.2 L483 708.4 Q486 703.6 491.4 702.4 Z" fill="#c1c1bf"/>
<path d="M478.2 748.2 L483.6 748.6 L482.6 757 L478.4 756.4 Z M506 749.2 L512.6 749 L511.4 759.4 L506.6 758.4 Z" fill="#b58f97"/>
<path d="M485 735.4 L505 735.4 L505.2 737.6 L484.8 737.6 Z" fill="#45454b"/>
<path d="M493.2 703.4 L496.4 703.4 L497.0 727.6 L495.0 732.4 L492.6 727.6 Z" fill="#bd5d5f"/>
<path d="M492.6 699.4 L497.6 699.4 L498.2 703 L495.2 705.2 L492 703 Z" fill="#b08c86"/>
<ellipse cx="495" cy="694.4" rx="6.5" ry="7.4" fill="#b28e88"/>
<path d="M487.4 692.6 Q486.4 681.4 495.2 680.8 Q504 681.2 502.9 692.2 L501.4 688.6 Q497 686 491.6 687.6 L488.8 689.8 Z" fill="#4c4b54"/>
</g>
<path d="M357.2,909.3 L581.9,781.3" stroke="#15151a" stroke-width="3.2"/>
<polygon points="353.6,714.2 356.4,715.6 356.4,912.6 353.6,911" fill="#9da1bd" />
<polygon points="353.6,796 356.4,794.4 356.4,912.6 353.6,911" fill="#5d617a" />
<polygon points="391.2,701.2 435.6,676.4 436.2,689 391.8,714.4" fill="#ececef" stroke="#ececef" stroke-width="5.0" stroke-linejoin="round"/>
<polygon points="391.2,701.2 435.6,676.4 436.2,689 391.8,714.4" fill="#111312" stroke="#111312" stroke-width="3.2" stroke-linejoin="round"/>
<polygon points="495.9,641.6 540.6,616.4 541.2,628.2 496.5,654" fill="#ececef" stroke="#ececef" stroke-width="5.0" stroke-linejoin="round"/>
<polygon points="495.9,641.6 540.6,616.4 541.2,628.2 496.5,654" fill="#111312" stroke="#111312" stroke-width="3.2" stroke-linejoin="round"/>
<text transform="matrix(1 -0.5586 0 1 395.2 710.3)" font-size="8.6" fill="#1d9441">无人</text>
<text class="sf" transform="matrix(1 -0.5586 0 1 412.8 700.6)" font-size="10.7" fill="#1d9441" textLength="18.6" lengthAdjust="spacingAndGlyphs">NONE</text>
<text transform="matrix(1 -0.5638 0 1 498.8 652)" font-size="8.1" fill="#a3181b">有人</text>
<text transform="matrix(1 -0.5638 0 1 514.6 643.1)" font-size="10.2" fill="#a3181b" textLength="23.2" lengthAdjust="spacingAndGlyphs">00:58</text>
<path d="M400.2 694.2 V689.3 L593.4 577.9 M521.6 626.4 V619.3 M621.2 560.8 L639.8 550.4" fill="none" stroke="#e0262b" stroke-width="1.2"/>
<g transform="translate(375.4 720.2) rotate(-35) scale(0.86)" fill="none" stroke="#e32227" stroke-width="2.7" stroke-linecap="round" opacity="1"><path d="M-8.73 -7.58 A14.5 14.5 0 0 1 8.73 -7.58"/><path d="M-5.90 -3.83 A9.8 9.8 0 0 1 5.90 -3.83"/><path d="M-3.06 -0.21 A5.2 5.2 0 0 1 3.06 -0.21"/><circle cx="0" cy="4" r="1.6" stroke-width="1.5"/></g>
<g transform="translate(552.8 615.0) rotate(-35) scale(0.86)" fill="none" stroke="#e32227" stroke-width="2.7" stroke-linecap="round" opacity="1"><path d="M-8.73 -7.58 A14.5 14.5 0 0 1 8.73 -7.58"/><path d="M-5.90 -3.83 A9.8 9.8 0 0 1 5.90 -3.83"/><path d="M-3.06 -0.21 A5.2 5.2 0 0 1 3.06 -0.21"/><circle cx="0" cy="4" r="1.6" stroke-width="1.5"/></g>
<g transform="translate(298.6 758.6) rotate(-28) scale(0.76)" fill="none" stroke="#b4475d" stroke-width="2.7" stroke-linecap="round" opacity="0.9"><path d="M-8.73 -7.58 A14.5 14.5 0 0 1 8.73 -7.58"/><path d="M-5.90 -3.83 A9.8 9.8 0 0 1 5.90 -3.83"/><path d="M-3.06 -0.21 A5.2 5.2 0 0 1 3.06 -0.21"/><circle cx="0" cy="4" r="1.6" stroke-width="1.5"/></g>
<g transform="translate(523.8 690.2) rotate(-6) scale(0.72)" fill="none" stroke="#bd6068" stroke-width="2.4" stroke-linecap="round" opacity="0.9"><path d="M-8.73 -7.58 A14.5 14.5 0 0 1 8.73 -7.58"/><path d="M-5.90 -3.83 A9.8 9.8 0 0 1 5.90 -3.83"/><path d="M-3.06 -0.21 A5.2 5.2 0 0 1 3.06 -0.21"/><circle cx="0" cy="4" r="1.6" stroke-width="1.5"/></g>
<text transform="matrix(0.8 -0.461 -0.125 1 449.8 680.1)" font-size="19" fill="#e0242a" stroke="#e0242a" stroke-width=".15">2芯线</text>
<text transform="matrix(0.755 -0.466 -0.15 1 619.8 614.9)" font-size="19.3" fill="#e0242a" stroke="#e0242a" stroke-width=".3">220V转</text>
<text transform="matrix(0.755 -0.466 -0.15 1 605.5 648.1)" font-size="19.3" fill="#e0242a" stroke="#e0242a" stroke-width=".3">12V电源适配器</text>
<polygon points="639.6,538.3 661.9,527.2 661.9,551.4 639.6,562" fill="#aeaeae" />
<polygon points="641.2,538.6 661.9,528.3 661.9,550.6 641.2,560.4" fill="#d2d2d2" />
<g fill="#3a3a3a"><ellipse cx="647.8" cy="541.6" rx="1.2" ry="2" transform="rotate(25 647.8 541.6)"/><ellipse cx="655.1" cy="537.8" rx="1.2" ry="2" transform="rotate(25 655.1 537.8)"/><ellipse cx="652" cy="545.2" rx="1" ry="1.9"/><ellipse cx="649.2" cy="553.6" rx="1.2" ry="1.9" transform="rotate(-25 649.2 553.6)"/><ellipse cx="655.3" cy="549.4" rx="1.1" ry="2.1" transform="rotate(28 655.3 549.4)"/></g>
<g>
<path d="M592.8 573.0 L614.3 556.0 L626.9 563.2 L626.9 572.6 L605.6 587.4 L593.2 580.0 Z" fill="#5d3e22"/>
<path d="M594.4 566.2 L614.3 556.0 L626.9 563.2 L607.5 574.6 Z" fill="#c9bf86"/>
<path d="M598.5 566.6 L612.4 559.4 L614.6 560.6 L600.8 567.9 Z M603.4 569.4 L617.4 562.0 L619.6 563.2 L605.8 570.7 Z" fill="#6f683c"/>
<path d="M600.5 565 L606 562.2 L607 562.8 L601.6 565.7 Z M608.5 567.6 L615 564.2 L616 564.8 L609.5 568.3 Z M604.4 563.4 L610 560.4 L611.6 561.4 L606 564.3 Z" fill="#f0ebcf"/>
<path d="M619.6 559.4 L626.9 563.2 L626.9 572.6 L624.2 574.4 L624.2 565 L617.6 561 Z" fill="#d9c437"/>
<path d="M607.5 574.6 L624.2 564.9 L624.2 574.4 L605.6 587.4 Z" fill="#e6e6e4"/>
<path d="M592.8 573.0 L596 568.6 L607.5 574.6 L605.6 587.4 L593.2 580.0 Z" fill="#73492a"/>
<path d="M594.4 574.6 L598.6 576.8 L598.4 582.8 L594.4 580.4 Z" fill="#a47947"/>
<path d="M600.4 577.8 L604.4 580 L604.2 585.6 L600.3 583.4 Z" fill="#8c6138"/>
<path d="M610.4 579.4 L622 571.4 M610.2 582.4 L619.6 576" stroke="#8d8d90" stroke-width=".8"/>
<path d="M613.4 574.6 L620.6 570.0" stroke="#55555a" stroke-width="1"/>
</g>
<text transform="translate(372.1 782.9) rotate(-19.1)" font-size="31" font-weight="bold" fill="#56565c" opacity=".29">SUNPN</text>
<text transform="translate(479.4 743.6) rotate(-19.1)" font-size="25" font-weight="bold" fill="#d8d8dc" opacity=".33">讯鹏</text>
<defs><clipPath id="wmo"><path d="M330 303.4 H660 V326 H330 Z M330 200 H338.8 V303.4 H330 Z"/></clipPath><clipPath id="wmi"><rect x="338.8" y="210" width="311" height="93.4" rx="8"/></clipPath></defs>
<g clip-path="url(#wmo)">
<text transform="translate(369.6 322.9) rotate(-19.1)" font-size="31" font-weight="bold" fill="#d4d4d4" stroke="#f4f4f4" stroke-width=".8" opacity=".95">SUNPN</text>
</g>
<g clip-path="url(#wmi)">
<text transform="translate(369.6 322.9) rotate(-19.1)" font-size="31" font-weight="bold" fill="none" stroke="#fff" stroke-width=".7" opacity=".13">SUNPN</text>
<text transform="translate(476.9 283.6) rotate(-19.1)" font-size="25" font-weight="bold" fill="none" stroke="#fff" stroke-width=".6" opacity=".10">讯鹏</text>
</g>
</svg>
<div class="num">03</div>
</body></html>
